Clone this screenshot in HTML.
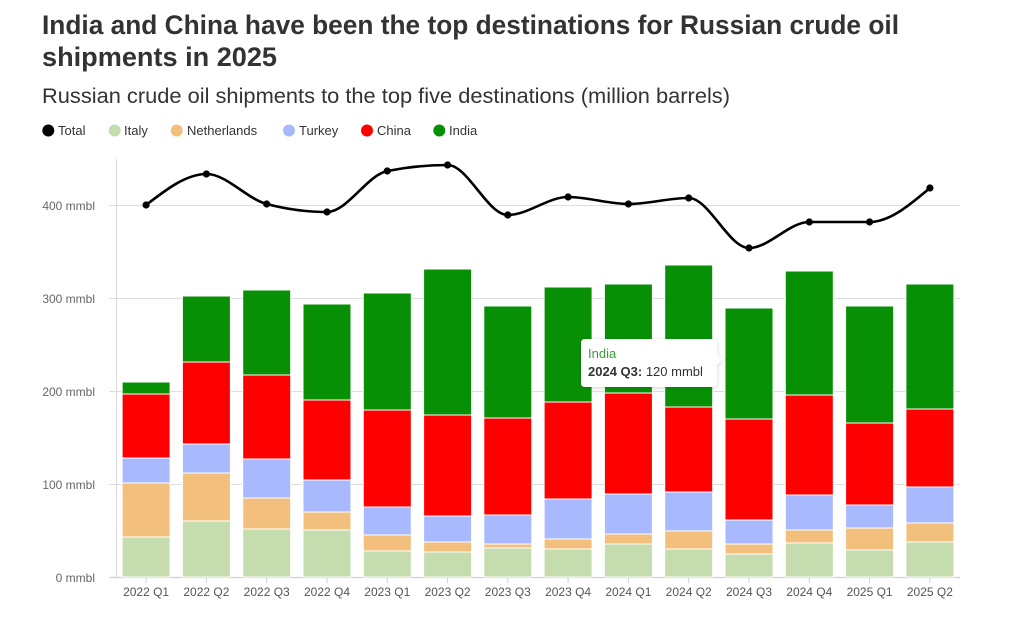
<!DOCTYPE html>
<html>
<head>
<meta charset="utf-8">
<style>
html,body{margin:0;padding:0;background:#fff;}
svg{display:block;font-family:"Liberation Sans",Arial,sans-serif;}
</style>
</head>
<body>
<svg width="1024" height="624" viewBox="0 0 1024 624" xmlns="http://www.w3.org/2000/svg">
<rect width="1024" height="624" fill="#fff"/>
<!-- Titles -->
<text x="42" y="34" font-size="27" font-weight="bold" fill="#333" textLength="857" lengthAdjust="spacingAndGlyphs">India and China have been the top destinations for Russian crude oil</text>
<text x="42" y="66" font-size="27" font-weight="bold" fill="#333" textLength="235" lengthAdjust="spacingAndGlyphs">shipments in 2025</text>
<text x="42" y="103" font-size="21" fill="#333" textLength="688" lengthAdjust="spacingAndGlyphs">Russian crude oil shipments to the top five destinations (million barrels)</text>

<!-- Legend -->
<g font-size="13" fill="#333">
<circle cx="48.3" cy="130.5" r="6" fill="#000"/><text x="58" y="135">Total</text>
<circle cx="114.7" cy="130.5" r="6" fill="#c5dcae"/><text x="124" y="135">Italy</text>
<circle cx="176.7" cy="130.5" r="6" fill="#f2c07c"/><text x="187" y="135">Netherlands</text>
<circle cx="289" cy="130.5" r="6" fill="#a9b9fe"/><text x="299" y="135">Turkey</text>
<circle cx="367" cy="130.5" r="6" fill="#fe0000"/><text x="377" y="135">China</text>
<circle cx="439.3" cy="130.5" r="6" fill="#079005"/><text x="449" y="135">India</text>
</g>

<!-- Gridlines -->
<g stroke="#dedede" stroke-width="1">
<line x1="109" y1="205.5" x2="960" y2="205.5"/>
<line x1="109" y1="298.5" x2="960" y2="298.5"/>
<line x1="109" y1="391.5" x2="960" y2="391.5"/>
<line x1="109" y1="484.5" x2="960" y2="484.5"/>
</g>
<line x1="109" y1="577.5" x2="960" y2="577.5" stroke="#cfcfcf" stroke-width="1.2"/>
<line x1="116.5" y1="159" x2="116.5" y2="577.5" stroke="#dcdcdc" stroke-width="1.2"/>

<!-- Y labels -->
<g font-size="12" fill="#666" text-anchor="end">
<text x="95" y="210">400 mmbl</text>
<text x="95" y="303">300 mmbl</text>
<text x="95" y="396">200 mmbl</text>
<text x="95" y="489">100 mmbl</text>
<text x="95" y="582">0 mmbl</text>
</g>

<!-- X ticks -->
<g stroke="#cfcfcf" stroke-width="1">
<line x1="146.1" y1="578" x2="146.1" y2="583"/>
<line x1="206.4" y1="578" x2="206.4" y2="583"/>
<line x1="266.7" y1="578" x2="266.7" y2="583"/>
<line x1="327.0" y1="578" x2="327.0" y2="583"/>
<line x1="387.3" y1="578" x2="387.3" y2="583"/>
<line x1="447.6" y1="578" x2="447.6" y2="583"/>
<line x1="507.8" y1="578" x2="507.8" y2="583"/>
<line x1="568.1" y1="578" x2="568.1" y2="583"/>
<line x1="628.4" y1="578" x2="628.4" y2="583"/>
<line x1="688.7" y1="578" x2="688.7" y2="583"/>
<line x1="749.0" y1="578" x2="749.0" y2="583"/>
<line x1="809.3" y1="578" x2="809.3" y2="583"/>
<line x1="869.6" y1="578" x2="869.6" y2="583"/>
<line x1="929.9" y1="578" x2="929.9" y2="583"/>
</g>
<g font-size="12" fill="#555" text-anchor="middle">
<text x="146.1" y="596">2022 Q1</text>
<text x="206.4" y="596">2022 Q2</text>
<text x="266.7" y="596">2022 Q3</text>
<text x="327.0" y="596">2022 Q4</text>
<text x="387.3" y="596">2023 Q1</text>
<text x="447.6" y="596">2023 Q2</text>
<text x="507.8" y="596">2023 Q3</text>
<text x="568.1" y="596">2023 Q4</text>
<text x="628.4" y="596">2024 Q1</text>
<text x="688.7" y="596">2024 Q2</text>
<text x="749.0" y="596">2024 Q3</text>
<text x="809.3" y="596">2024 Q4</text>
<text x="869.6" y="596">2025 Q1</text>
<text x="929.9" y="596">2025 Q2</text>
</g>

<!-- Bars -->
<g stroke="#fff" stroke-width="1">
<!-- 0 -->
<rect x="122.1" y="537" width="48" height="40" fill="#c5dcae"/>
<rect x="122.1" y="483" width="48" height="54" fill="#f2c07c"/>
<rect x="122.1" y="458" width="48" height="25" fill="#a9b9fe"/>
<rect x="122.1" y="394" width="48" height="64" fill="#fe0000"/>
<rect x="122.1" y="382" width="48" height="12" fill="#079005"/>
<!-- 1 -->
<rect x="182.4" y="521" width="48" height="56" fill="#c5dcae"/>
<rect x="182.4" y="473" width="48" height="48" fill="#f2c07c"/>
<rect x="182.4" y="444" width="48" height="29" fill="#a9b9fe"/>
<rect x="182.4" y="362" width="48" height="82" fill="#fe0000"/>
<rect x="182.4" y="296" width="48" height="66" fill="#079005"/>
<!-- 2 -->
<rect x="242.7" y="529" width="48" height="48" fill="#c5dcae"/>
<rect x="242.7" y="498" width="48" height="31" fill="#f2c07c"/>
<rect x="242.7" y="459" width="48" height="39" fill="#a9b9fe"/>
<rect x="242.7" y="375" width="48" height="84" fill="#fe0000"/>
<rect x="242.7" y="290" width="48" height="85" fill="#079005"/>
<!-- 3 -->
<rect x="303.0" y="530" width="48" height="47" fill="#c5dcae"/>
<rect x="303.0" y="512" width="48" height="18" fill="#f2c07c"/>
<rect x="303.0" y="480" width="48" height="32" fill="#a9b9fe"/>
<rect x="303.0" y="400" width="48" height="80" fill="#fe0000"/>
<rect x="303.0" y="304" width="48" height="96" fill="#079005"/>
<!-- 4 -->
<rect x="363.3" y="551" width="48" height="26" fill="#c5dcae"/>
<rect x="363.3" y="535" width="48" height="16" fill="#f2c07c"/>
<rect x="363.3" y="507" width="48" height="28" fill="#a9b9fe"/>
<rect x="363.3" y="410" width="48" height="97" fill="#fe0000"/>
<rect x="363.3" y="293" width="48" height="117" fill="#079005"/>
<!-- 5 -->
<rect x="423.6" y="552" width="48" height="25" fill="#c5dcae"/>
<rect x="423.6" y="542" width="48" height="10" fill="#f2c07c"/>
<rect x="423.6" y="516" width="48" height="26" fill="#a9b9fe"/>
<rect x="423.6" y="415" width="48" height="101" fill="#fe0000"/>
<rect x="423.6" y="269" width="48" height="146" fill="#079005"/>
<!-- 6 -->
<rect x="483.8" y="548" width="48" height="29" fill="#c5dcae"/>
<rect x="483.8" y="544" width="48" height="4" fill="#f2c07c"/>
<rect x="483.8" y="515" width="48" height="29" fill="#a9b9fe"/>
<rect x="483.8" y="418" width="48" height="97" fill="#fe0000"/>
<rect x="483.8" y="306" width="48" height="112" fill="#079005"/>
<!-- 7 -->
<rect x="544.1" y="549" width="48" height="28" fill="#c5dcae"/>
<rect x="544.1" y="539" width="48" height="10" fill="#f2c07c"/>
<rect x="544.1" y="499" width="48" height="40" fill="#a9b9fe"/>
<rect x="544.1" y="402" width="48" height="97" fill="#fe0000"/>
<rect x="544.1" y="287" width="48" height="115" fill="#079005"/>
<!-- 8 -->
<rect x="604.4" y="544" width="48" height="33" fill="#c5dcae"/>
<rect x="604.4" y="534" width="48" height="10" fill="#f2c07c"/>
<rect x="604.4" y="494" width="48" height="40" fill="#a9b9fe"/>
<rect x="604.4" y="393" width="48" height="101" fill="#fe0000"/>
<rect x="604.4" y="284" width="48" height="109" fill="#079005"/>
<!-- 9 -->
<rect x="664.7" y="549" width="48" height="28" fill="#c5dcae"/>
<rect x="664.7" y="531" width="48" height="18" fill="#f2c07c"/>
<rect x="664.7" y="492" width="48" height="39" fill="#a9b9fe"/>
<rect x="664.7" y="407" width="48" height="85" fill="#fe0000"/>
<rect x="664.7" y="265" width="48" height="142" fill="#079005"/>
<!-- 10 -->
<rect x="725.0" y="554" width="48" height="23" fill="#c5dcae"/>
<rect x="725.0" y="544" width="48" height="10" fill="#f2c07c"/>
<rect x="725.0" y="520" width="48" height="24" fill="#a9b9fe"/>
<rect x="725.0" y="419" width="48" height="101" fill="#fe0000"/>
<rect x="725.0" y="308" width="48" height="111" fill="#079005"/>
<!-- 11 -->
<rect x="785.3" y="543" width="48" height="34" fill="#c5dcae"/>
<rect x="785.3" y="530" width="48" height="13" fill="#f2c07c"/>
<rect x="785.3" y="495" width="48" height="35" fill="#a9b9fe"/>
<rect x="785.3" y="395" width="48" height="100" fill="#fe0000"/>
<rect x="785.3" y="271" width="48" height="124" fill="#079005"/>
<!-- 12 -->
<rect x="845.6" y="550" width="48" height="27" fill="#c5dcae"/>
<rect x="845.6" y="528" width="48" height="22" fill="#f2c07c"/>
<rect x="845.6" y="505" width="48" height="23" fill="#a9b9fe"/>
<rect x="845.6" y="423" width="48" height="82" fill="#fe0000"/>
<rect x="845.6" y="306" width="48" height="117" fill="#079005"/>
<!-- 13 -->
<rect x="905.9" y="542" width="48" height="35" fill="#c5dcae"/>
<rect x="905.9" y="523" width="48" height="19" fill="#f2c07c"/>
<rect x="905.9" y="487" width="48" height="36" fill="#a9b9fe"/>
<rect x="905.9" y="409" width="48" height="78" fill="#fe0000"/>
<rect x="905.9" y="284" width="48" height="125" fill="#079005"/>
</g>

<!-- Total line -->
<path d="M146.1,205 C166.2,189.5 186.3,174 206.4,174 C226.5,174 246.6,198.7 266.7,204 C286.8,209.3 306.9,212 327.0,212 C347.1,212 367.2,175 387.3,171 C407.4,167 427.5,165 447.6,165 C467.7,165 487.7,215 507.8,215 C527.9,215 548.0,197 568.1,197 C588.2,197 608.3,204 628.4,204 C648.5,204 668.6,198 688.7,198 C708.8,198 728.9,248 749.0,248 C769.1,248 789.2,222 809.3,222 C829.4,222 849.5,222 869.6,222 C889.7,222 909.8,205 929.9,188" fill="none" stroke="#000" stroke-width="2.6" stroke-linejoin="round" stroke-linecap="round"/>
<g fill="#000">
<circle cx="146.1" cy="205" r="3.6"/>
<circle cx="206.4" cy="174" r="3.6"/>
<circle cx="266.7" cy="204" r="3.6"/>
<circle cx="327.0" cy="212" r="3.6"/>
<circle cx="387.3" cy="171" r="3.6"/>
<circle cx="447.6" cy="165" r="3.6"/>
<circle cx="507.8" cy="215" r="3.6"/>
<circle cx="568.1" cy="197" r="3.6"/>
<circle cx="628.4" cy="204" r="3.6"/>
<circle cx="688.7" cy="198" r="3.6"/>
<circle cx="749.0" cy="248" r="3.6"/>
<circle cx="809.3" cy="222" r="3.6"/>
<circle cx="869.6" cy="222" r="3.6"/>
<circle cx="929.9" cy="188" r="3.6"/>
</g>

<!-- Tooltip -->
<defs>
<filter id="sh" x="-20%" y="-30%" width="140%" height="160%">
<feGaussianBlur in="SourceAlpha" stdDeviation="2"/>
<feOffset dx="0" dy="1" result="b"/>
<feComponentTransfer><feFuncA type="linear" slope="0.18"/></feComponentTransfer>
<feMerge><feMergeNode/><feMergeNode in="SourceGraphic"/></feMerge>
</filter>
</defs>
<path d="M585,339 L713,339 Q717,339 717,343 L717,354 L723,359.5 L717,365 L717,383 Q717,387 713,387 L585,387 Q581,387 581,383 L581,343 Q581,339 585,339 Z" fill="#fff" filter="url(#sh)"/>
<text x="588" y="358" font-size="13" fill="#3a9b3a">India</text>
<text x="588" y="376" font-size="13" fill="#333"><tspan font-weight="bold">2024 Q3:</tspan> 120 mmbl</text>
</svg>
</body>
</html>
